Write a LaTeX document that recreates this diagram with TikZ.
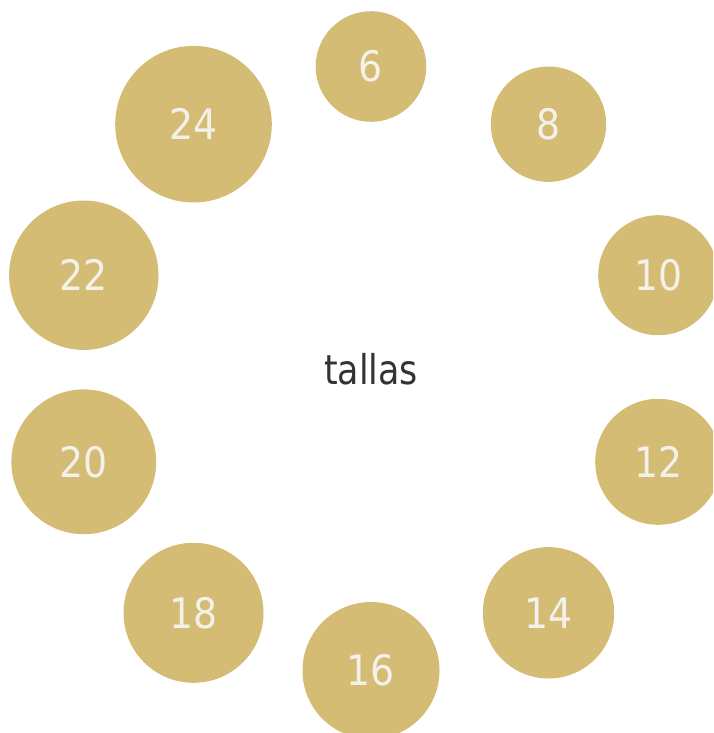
\documentclass[tikz,border=0pt]{standalone}
\usepackage{fontspec}
\setmainfont[FakeStretch=0.9]{DejaVu Sans}
\newfontfamily\hubfont[FakeStretch=0.85]{DejaVu Sans}
\definecolor{gold}{HTML}{D4BC74}
\definecolor{cream}{HTML}{F4F1EA}
\definecolor{inkgray}{HTML}{333333}
\begin{document}
\begin{tikzpicture}[x=1pt,y=-1pt,
  bubble/.style={circle, fill=gold, draw=none, inner sep=0pt, minimum size=#1,
    text=cream, font=\fontsize{42}{42}\selectfont},
  centerlabel/.style={inner sep=0pt, text=inkgray, font=\hubfont\fontsize{41}{41}\selectfont}]
\useasboundingbox (0,0) rectangle (713,733);
\clip (0,0) rectangle (713,733);
\node[bubble=110.6] (s6)  at (371,66.5)    {6};
\node[bubble=115.4] (s8)  at (548.5,124.2) {8};
\node[bubble=120]   (s10) at (658.2,275.2) {10};
\node[bubble=126]   (s12) at (658.2,461.8) {12};
\node[bubble=131.4] (s14) at (548.5,612.8) {14};
\node[bubble=137]   (s16) at (371,670.5)   {16};
\node[bubble=140]   (s18) at (193.5,612.8) {18};
\node[bubble=144.8] (s20) at (83.8,461.8)  {20};
\node[bubble=149.4] (s22) at (83.8,275.2)  {22};
\node[bubble=156.6] (s24) at (193.5,124.2) {24};
\node[centerlabel] (hub) at (371,369) {tallas};
\end{tikzpicture}
\end{document}
